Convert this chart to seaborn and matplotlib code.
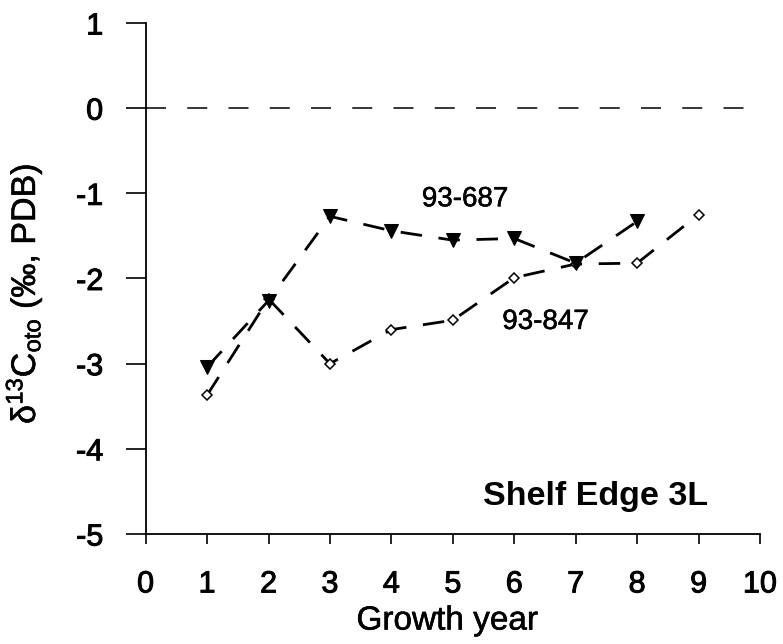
import matplotlib
matplotlib.use("Agg")
import matplotlib.pyplot as plt
import matplotlib.patheffects as pe
import seaborn as sns
import pandas as pd

# Otolith carbon isotope profiles by growth year
years_687 = [1, 2, 3, 4, 5, 6, 7, 8]
d13c_687 = [-3.04, -2.26, -1.27, -1.44, -1.55, -1.53, -1.82, -1.33]

years_847 = [1, 2, 3, 4, 5, 6, 7, 8, 9]
d13c_847 = [-3.37, -2.24, -3.00, -2.60, -2.49, -1.99, -1.83, -1.82, -1.25]

x_ticks = list(range(0, 11))
y_ticks = [1, 0, -1, -2, -3, -4, -5]

sns.set_theme(style="ticks")
plt.rcParams["font.family"] = ["Liberation Sans", "DejaVu Sans"]
plt.rcParams["mathtext.fontset"] = "custom"
plt.rcParams["mathtext.rm"] = "Liberation Sans"
plt.rcParams["mathtext.it"] = "Liberation Sans:italic"
for key in ["text.color", "axes.labelcolor", "xtick.color", "ytick.color",
            "axes.edgecolor"]:
    plt.rcParams[key] = "black"

df687 = pd.DataFrame({"year": years_687, "d13c": d13c_687})
df847 = pd.DataFrame({"year": years_847, "d13c": d13c_847})

fig = plt.figure(figsize=(7.83, 6.44), dpi=100)
ax = fig.add_axes([0.186, 0.1708, 0.7846, 0.7935])

heavy = [pe.withStroke(linewidth=0.7, foreground="black")]
light = [pe.withStroke(linewidth=0.4, foreground="black")]

# zero reference line
lw0 = 1.1
ax.axhline(0, color="black", lw=lw0, ls=(0, (14.4 / lw0, 15.3 / lw0)), zorder=1)

lw = 2.0
dash = (0, (15.5 / lw, 12.0 / lw))
sns.lineplot(data=df847, x="year", y="d13c", ax=ax, color="black", lw=lw,
             linestyle=dash, marker="D", markersize=5.5, markerfacecolor="white",
             markeredgecolor="black", markeredgewidth=1.1, zorder=3)
sns.lineplot(data=df687, x="year", y="d13c", ax=ax, color="black", lw=lw,
             linestyle=dash, marker="v", markersize=9.5, markerfacecolor="black",
             markeredgecolor="black", zorder=4)

ax.set_xlim(0, 10)
ax.set_ylim(-5, 1)
ax.set_xticks(x_ticks)
ax.set_yticks(y_ticks)
ax.set_xticklabels([str(v) for v in x_ticks])
ax.set_yticklabels([str(v) for v in y_ticks])

for s in ["top", "right"]:
    ax.spines[s].set_visible(False)
for s in ["left", "bottom"]:
    ax.spines[s].set_linewidth(1.3)
    ax.spines[s].set_color("black")

ax.tick_params(axis="y", direction="out", length=14.5, width=1.2, pad=16,
               labelsize=22)
ax.tick_params(axis="x", direction="out", length=7.5, width=1.2, pad=18,
               labelsize=22)
for lab in ax.get_xticklabels() + ax.get_yticklabels():
    lab.set_path_effects(heavy)

ax.set_xlabel("Growth year", fontsize=24)
ax.xaxis.set_label_coords(0.491, -0.14)
ax.xaxis.label.set_va("top")
ax.set_ylabel(r"δ$^{\mathregular{13}}$C$_{\mathregular{oto}}$ (‰, PDB)", fontsize=24.5)
ax.yaxis.set_label_coords(-0.164, 0.47)
ax.xaxis.label.set_path_effects(light)
ax.yaxis.label.set_path_effects(light)

ax.text(5.2, -1.07, "93-687", fontsize=20, ha="center", va="center",
        path_effects=light)
ax.text(6.51, -2.51, "93-847", fontsize=20, ha="center", va="center",
        path_effects=light)
ax.text(9.16, -4.66, "Shelf Edge 3L", fontsize=24.5, fontweight="bold",
        ha="right", va="baseline")

fig.savefig("out.png", dpi=100)
